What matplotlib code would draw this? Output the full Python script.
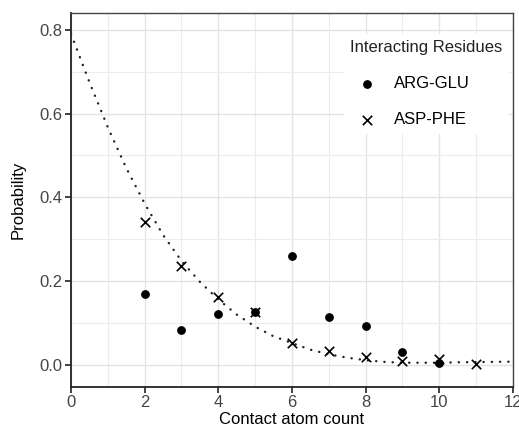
import matplotlib.pyplot as plt

plt.rcParams["font.family"] = ["Liberation Sans", "DejaVu Sans"]

# observed probabilities by contact atom count
arg_glu_x = [2, 3, 4, 5, 6, 7, 8, 9, 10]
arg_glu_y = [0.169, 0.083, 0.122, 0.127, 0.260, 0.113, 0.092, 0.030, 0.004]

asp_phe_x = [2, 3, 4, 5, 6, 7, 8, 9, 10, 11]
asp_phe_y = [0.341, 0.237, 0.163, 0.127, 0.053, 0.032, 0.018, 0.008, 0.013, 0.002]

# fitted curve
fit_x = [0, 0.5, 1, 1.5, 2, 2.5, 3, 3.5, 4, 4.5, 5, 5.5, 6, 6.5, 7, 7.5, 8,
         8.5, 9, 9.5, 10, 10.5, 11, 11.5, 12]
fit_y = [0.79, 0.675, 0.567, 0.47, 0.385, 0.31, 0.248, 0.198, 0.156, 0.12,
         0.091, 0.068, 0.052, 0.036, 0.025, 0.017, 0.011, 0.007, 0.005, 0.005,
         0.005, 0.006, 0.0065, 0.007, 0.0075]

x_ticks = [0, 2, 4, 6, 8, 10, 12]
y_ticks = [0.0, 0.2, 0.4, 0.6, 0.8]

fig = plt.figure(figsize=(5.19, 4.34), dpi=100)
ax = fig.add_axes([0.1368, 0.1083, 0.8516, 0.8617])

ax.set_xlim(0, 12)
ax.set_ylim(-0.053, 0.84)
ax.set_xticks(x_ticks)
ax.set_yticks(y_ticks)
ax.set_xticks([1, 3, 5, 7, 9, 11], minor=True)
ax.set_yticks([0.1, 0.3, 0.5, 0.7], minor=True)
ax.set_yticklabels([f"{v:.1f}" for v in y_ticks])
ax.grid(True, which="major", color="#e3e3e3", linewidth=1.0)
ax.grid(True, which="minor", color="#ececec", linewidth=0.8)
ax.set_axisbelow(True)
ax.tick_params(which="minor", length=0)
ax.tick_params(which="major", length=4, width=1.2, color="#222222",
               labelsize=12, labelcolor="#444444", pad=2)

for side in ["left", "bottom"]:
    ax.spines[side].set_linewidth(1.3)
    ax.spines[side].set_color("#222222")
for side in ["top", "right"]:
    ax.spines[side].set_linewidth(1.0)
    ax.spines[side].set_color("#444444")

ax.plot(fit_x, fit_y, color="#222222", linewidth=1.7, linestyle=(0, (0.1, 3.4)),
        dash_capstyle="round", zorder=2)
ax.scatter(arg_glu_x, arg_glu_y, marker="o", s=28, color="black",
           label="ARG-GLU", zorder=3)
ax.scatter(asp_phe_x, asp_phe_y, marker="x", s=46, color="black",
           linewidths=1.2, label="ASP-PHE", zorder=3)

ax.set_xlabel("Contact atom count", fontsize=12, labelpad=1)
ax.set_ylabel("Probability", fontsize=12, labelpad=10)

leg = ax.legend(title="Interacting Residues", loc="upper left",
                bbox_to_anchor=(0.617, 0.945), frameon=True, fontsize=12,
                title_fontsize=12, labelspacing=1.25, handlelength=2.0,
                handletextpad=0.6, borderpad=0.4, borderaxespad=0)
leg._legend_box.align = "left"
leg.get_frame().set_edgecolor("none")
leg.get_frame().set_facecolor("white")
leg.get_frame().set_alpha(1.0)
leg.get_title().set_color("#222222")

fig.savefig("out.png", dpi=100)
